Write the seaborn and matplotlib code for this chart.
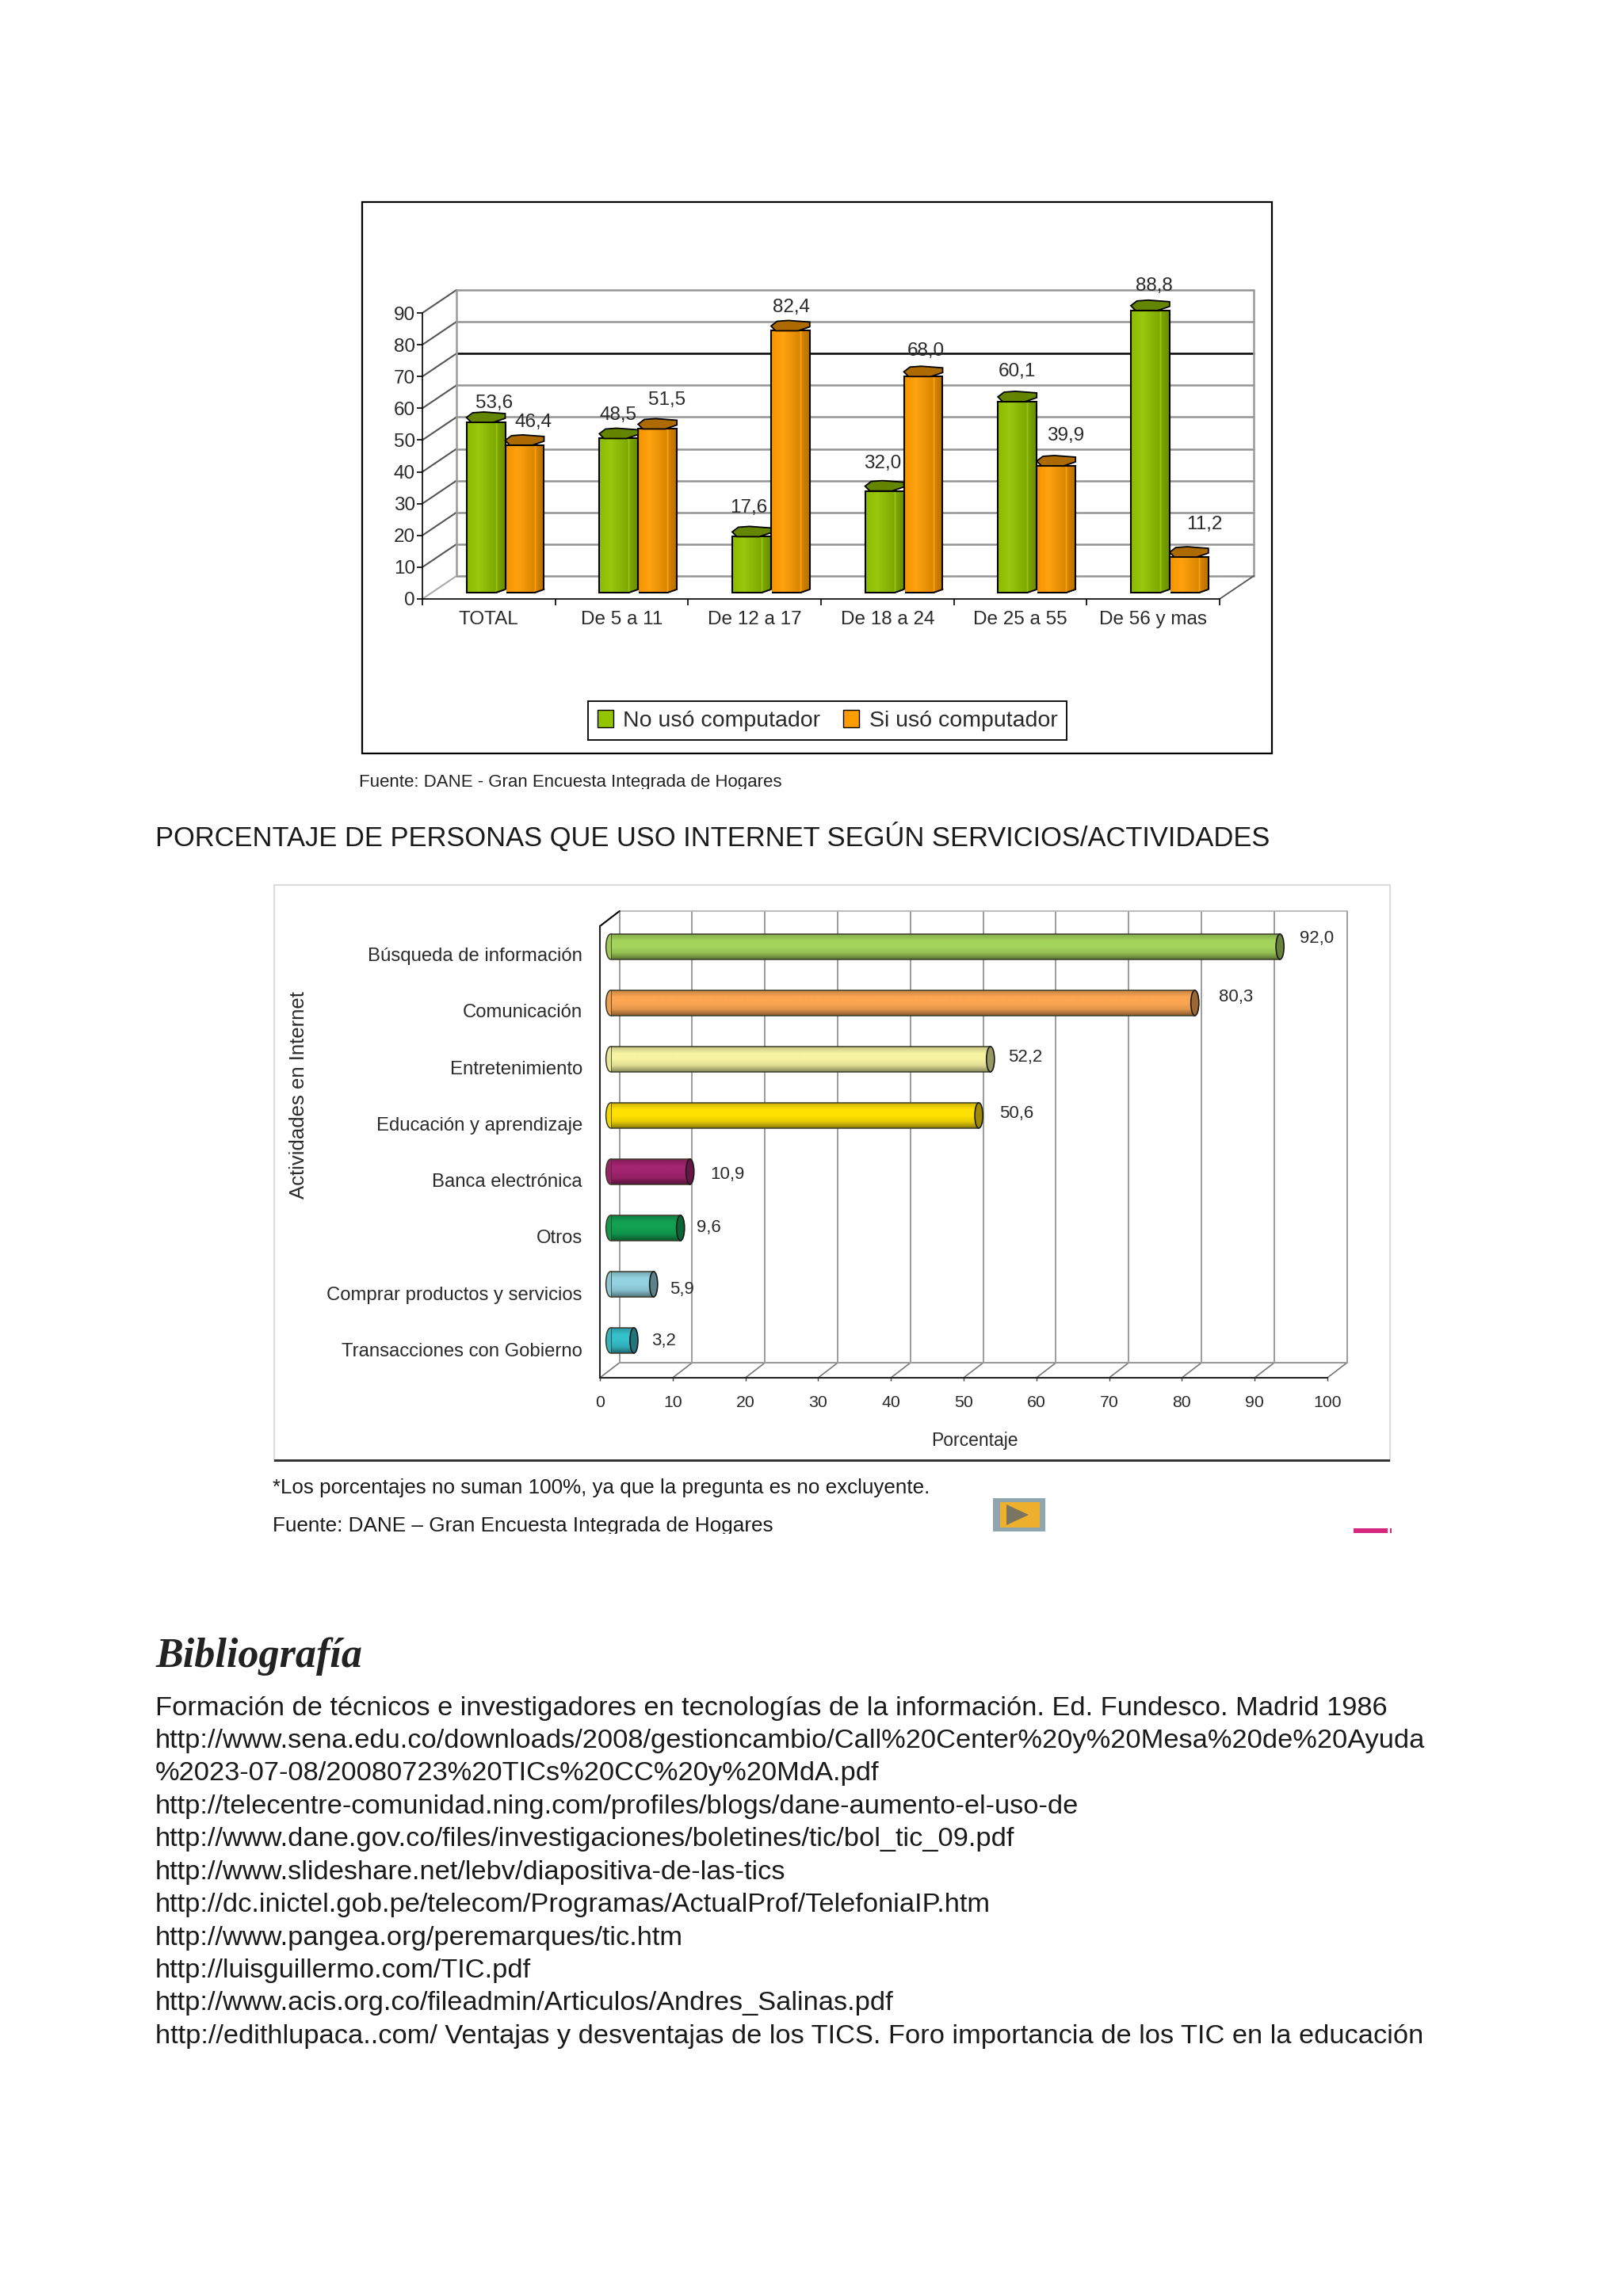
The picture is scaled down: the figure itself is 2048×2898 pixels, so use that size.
import numpy as np
import pandas as pd
import seaborn as sns
from matplotlib import pyplot as plt
from matplotlib.colors import LinearSegmentedColormap, to_rgb
from matplotlib.patches import Ellipse, Patch, Polygon, Rectangle

W, H = 2048, 2898

# first chart
grupos = ['TOTAL', 'De 5 a 11', 'De 12 a 17', 'De 18 a 24', 'De 25 a 55', 'De 56 y mas']
no_uso = [53.6, 48.5, 17.6, 32.0, 60.1, 88.8]
si_uso = [46.4, 51.5, 82.4, 68.0, 39.9, 11.2]
series_uso = ['No usó computador', 'Si usó computador']
colores_uso = ['#93c400', '#ff9c00']
ticks_uso = list(range(0, 100, 10))

# second chart
actividades = ['Búsqueda de información', 'Comunicación', 'Entretenimiento',
               'Educación y aprendizaje', 'Banca electrónica', 'Otros',
               'Comprar productos y servicios', 'Transacciones con Gobierno']
porcentajes = [92.0, 80.3, 52.2, 50.6, 10.9, 9.6, 5.9, 3.2]
colores_act = ['#a4d45c', '#fba652', '#f6f4a2', '#ffe100', '#a3246f', '#12a152', '#93d2e0', '#35bfca']
ticks_pct = list(range(0, 110, 10))

bibliografia = [
    'Formación de técnicos e investigadores en tecnologías de la información. Ed. Fundesco. Madrid 1986',
    'http://www.sena.edu.co/downloads/2008/gestioncambio/Call%20Center%20y%20Mesa%20de%20Ayuda',
    '%2023-07-08/20080723%20TICs%20CC%20y%20MdA.pdf',
    'http://telecentre-comunidad.ning.com/profiles/blogs/dane-aumento-el-uso-de',
    'http://www.dane.gov.co/files/investigaciones/boletines/tic/bol_tic_09.pdf',
    'http://www.slideshare.net/lebv/diapositiva-de-las-tics',
    'http://dc.inictel.gob.pe/telecom/Programas/ActualProf/TelefoniaIP.htm',
    'http://www.pangea.org/peremarques/tic.htm',
    'http://luisguillermo.com/TIC.pdf',
    'http://www.acis.org.co/fileadmin/Articulos/Andres_Salinas.pdf',
    'http://edithlupaca..com/ Ventajas y desventajas de los TICS. Foro importancia de los TIC en la educación',
]

# label nudges in pixels, the original places them by hand
nudge_no = [(11, 24), (-1, 29), (-4, 36), (-2, 35), (0, 38), (5, 31)]
nudge_si = [(11, 29), (12, 36), (1, 29), (3, 32), (12, 38), (19, 41)]
nudge_pct = [(46, 10), (52, 7), (44, 2), (48, 2), (47, -4), (36, 0), (36, -7), (38, -1)]

sns.set_style('white')
plt.rcParams['font.family'] = ['Liberation Sans', 'DejaVu Sans']

fig = plt.figure(figsize=(W / 100, H / 100), dpi=100, facecolor='white')


def px_axes(x0, x1, y_top, y_bottom, z=0):
    ax = fig.add_axes([x0 / W, 1 - y_bottom / H, (x1 - x0) / W, (y_bottom - y_top) / H], zorder=z)
    ax.patch.set_visible(False)
    return ax


def px_rect(x0, y0, x1, y1, **kw):
    r = Rectangle((x0 / W, 1 - y1 / H), (x1 - x0) / W, (y1 - y0) / H, transform=fig.transFigure, **kw)
    fig.add_artist(r)
    return r


def px_text(x, y, s, **kw):
    kw.setdefault('va', 'center')
    kw.setdefault('color', '#1a1a1a')
    return fig.text(x / W, 1 - y / H, s, **kw)


def shade(color, f):
    c = np.array(to_rgb(color))
    return tuple(c * f) if f <= 1 else tuple(c + (1 - c) * (f - 1))


# ---- chart 1: frame, walls, axis
px_rect(457, 255, 1605, 951, fill=False, edgecolor='black', linewidth=1.6, zorder=-1)

ax1 = px_axes(533, 1539, 395, 756)
ax1.set_xlim(-0.5, 5.5)
ax1.set_ylim(0, 90)
deep_x, deep_y = 43 / 167.67, 29 / 4.01
for t in ticks_uso:
    col = 'black' if t == 70 else '#949494'
    ax1.plot([-0.5 + deep_x, 5.5 + deep_x], [t + deep_y, t + deep_y], color=col, lw=1.8, clip_on=False, zorder=1)
    ax1.plot([-0.5, -0.5 + deep_x], [t, t + deep_y], color='#aaaaaa' if t == 0 else '#555555', lw=1.5,
             clip_on=False, zorder=1)
ax1.plot([-0.5 + deep_x] * 2, [deep_y, 90 + deep_y], color='#9a9a9a', lw=1.8, clip_on=False)
ax1.plot([5.5 + deep_x] * 2, [deep_y, 90 + deep_y], color='#9a9a9a', lw=1.8, clip_on=False)
ax1.plot([5.5, 5.5 + deep_x], [0, deep_y], color='#555555', lw=1.3, clip_on=False)
ax1.set_yticks(ticks_uso)
ax1.set_xticks(range(len(grupos)))
ax1.set_xticklabels(grupos)
ax1.set_xticks(np.arange(-0.5, 6, 1), minor=True)
ax1.tick_params(axis='x', which='major', length=0, pad=11, labelsize=17.5, labelcolor='#2a2a2a')
ax1.tick_params(axis='x', which='minor', length=6, width=1.2, color='black', bottom=True)
ax1.tick_params(axis='y', length=5, width=1.2, color='black', left=True, pad=1.5, labelsize=17.5, labelcolor='#2a2a2a')
for s in ['top', 'right']:
    ax1.spines[s].set_visible(False)
for s in ['left', 'bottom']:
    ax1.spines[s].set_color('black')
    ax1.spines[s].set_linewidth(1.2)

# ---- chart 1: bars sit half way into the depth of the box
df_uso = pd.DataFrame({
    'grupo': grupos * 2,
    'valor': no_uso + si_uso,
    'uso': [series_uso[0]] * len(grupos) + [series_uso[1]] * len(grupos),
})
ax1b = px_axes(553.7, 1559.7, 387, 748, z=1)
sns.barplot(data=df_uso, x='grupo', y='valor', hue='uso', hue_order=series_uso, palette=colores_uso,
            width=0.584, gap=0, saturation=1, legend=False, ax=ax1b)
up = 1 / 4.01  # one pixel in value units
for container, color in zip(ax1b.containers, colores_uso):
    cmap = LinearSegmentedColormap.from_list('b', [
        (0.0, shade(color, 0.95)), (0.3, shade(color, 1.06)), (0.74, shade(color, 0.86)),
        (0.77, shade(color, 1.12)), (0.80, shade(color, 0.84)), (1.0, shade(color, 0.72))])
    for bar in container:
        x, w, h = bar.get_x(), bar.get_width(), bar.get_height()
        ax1b.imshow(np.linspace(0, 1, 128).reshape(1, -1), extent=(x, x + w, 0, h), aspect='auto',
                    cmap=cmap, zorder=2)
        bar.set_facecolor('none')
        bar.set_edgecolor('black')
        bar.set_linewidth(1.5)
        bar.set_zorder(3)
        bar.set_clip_on(False)
        # hexagonal lid and the cut corner at the foot of the side face
        lid = [(x, h + 6 * up), (x + 0.16 * w, h + 12 * up), (x + 0.45 * w, h + 13 * up), (x + w, h + 11 * up),
               (x + w, h + 5 * up), (x + 0.7 * w, h), (x + 0.12 * w, h)]
        ax1b.add_patch(Polygon(lid, closed=True, facecolor=shade(color, 0.68), edgecolor='black',
                               linewidth=1.3, zorder=4, clip_on=False))
        foot = [(x + 0.76 * w, -0.3), (x + w + 0.006, -0.3), (x + w + 0.006, 4 * up)]
        ax1b.add_patch(Polygon(foot, closed=True, facecolor='white', edgecolor='none', zorder=4, clip_on=False))
        ax1b.plot([x + 0.76 * w, x + w], [0, 4 * up], color='black', lw=1.4, zorder=5, clip_on=False)
ax1b.set_xlim(-0.5, 5.5)
ax1b.set_ylim(0, 90)
ax1b.axis('off')

for i, (a, b) in enumerate(zip(no_uso, si_uso)):
    bars_a, bars_b = ax1b.containers[0][i], ax1b.containers[1][i]
    for bar, v, n in ((bars_a, a, nudge_no[i]), (bars_b, b, nudge_si[i])):
        ax1b.annotate(f'{v:.1f}'.replace('.', ','), (bar.get_x() + bar.get_width() / 2, v),
                      xytext=(n[0] * 0.72, n[1] * 0.72), textcoords='offset points',
                      ha='center', va='center', fontsize=17.5, color='#2a2a2a', annotation_clip=False, zorder=6)

ax1b.legend(handles=[Patch(facecolor=c, edgecolor='black') for c in colores_uso], labels=series_uso, ncol=2,
            loc='center', bbox_to_anchor=(1044 / W, 1 - 909.5 / H), bbox_transform=fig.transFigure,
            fontsize=20.5, frameon=True, fancybox=False, framealpha=1, edgecolor='black',
            handlelength=0.7, handleheight=0.8, handletextpad=0.45, columnspacing=1.0, borderpad=0.4,
            labelcolor='#2a2a2a').get_frame().set_linewidth(1.3)

px_text(453, 988, 'Fuente: DANE - Gran Encuesta Integrada de Hogares', fontsize=16, color='#222222')
px_rect(440, 996, 1100, 1012, facecolor='white', edgecolor='none', zorder=10)

px_text(196, 1056, 'PORCENTAJE DE PERSONAS QUE USO INTERNET SEGÚN SERVICIOS/ACTIVIDADES', fontsize=24.85)

# ---- chart 2: panel and walls
px_rect(346, 1117, 1754, 1844, facecolor='white', edgecolor='#dcdcdc', linewidth=1.5, zorder=-1)
px_rect(346, 1842, 1754, 1845, facecolor='#333333', edgecolor='none', zorder=-1)

ax2 = px_axes(757, 1675, 1169, 1739)
ax2.set_xlim(0, 100)
ax2.set_ylim(7.5, -0.5)
deep_px, deep_cat = 2.69, 19 / 71.25
for t in ticks_pct:
    ax2.plot([t + deep_px] * 2, [7.5 - deep_cat, -0.5 - deep_cat], color='#949494', lw=1.3, clip_on=False)
    ax2.plot([t, t + deep_px], [7.5, 7.5 - deep_cat], color='#777777', lw=1.2, clip_on=False)
ax2.plot([deep_px, 100 + deep_px], [7.5 - deep_cat] * 2, color='#9a9a9a', lw=1.5, clip_on=False)
ax2.plot([deep_px, 100 + deep_px], [-0.5 - deep_cat] * 2, color='#b5b5b5', lw=1.3, clip_on=False)
ax2.plot([0, deep_px], [-0.5, -0.5 - deep_cat], color='black', lw=1.5, clip_on=False)
ax2.set_xticks(ticks_pct)
ax2.set_yticks(range(len(actividades)))
ax2.set_yticklabels(actividades)
ax2.tick_params(axis='x', length=3, width=1, color='#444444', bottom=True, pad=13, labelsize=15.3, labelcolor='#2a2a2a')
ax2.tick_params(axis='y', length=0, pad=16, labelsize=17.2, labelcolor='#2a2a2a')
ax2.set_xlabel('Porcentaje', fontsize=16.5, color='#2a2a2a', labelpad=19, x=0.515)
for s in ['top', 'right']:
    ax2.spines[s].set_visible(False)
for s in ['left', 'bottom']:
    ax2.spines[s].set_color('#222222')
    ax2.spines[s].set_linewidth(1.5)

px_text(377, 1382, 'Actividades en Internet', rotation=90, ha='center', fontsize=18.5, color='#2a2a2a')

# ---- chart 2: cylinders
ax2b = px_axes(770.6, 1688.6, 1159.4, 1727.4, z=1)
sns.barplot(x=porcentajes, y=actividades, hue=actividades, palette=colores_act, orient='h',
            width=0.45, saturation=1, legend=False, ax=ax2b)
for container, color in zip(ax2b.containers, colores_act):
    cmap = LinearSegmentedColormap.from_list('c', [shade(color, 0.8), shade(color, 1.0), shade(color, 1.0),
                                                   shade(color, 0.9), shade(color, 0.55)])
    for bar in container:
        y, hh, v = bar.get_y(), bar.get_height(), bar.get_width()
        ax2b.imshow(np.linspace(0, 1, 64).reshape(-1, 1), extent=(0, v, y + hh, y), aspect='auto',
                    cmap=cmap, zorder=2)
        bar.set_facecolor('none')
        bar.set_edgecolor('#3a3a2a')
        bar.set_linewidth(1.1)
        bar.set_zorder(3)
        ymid = y + hh / 2
        ax2b.add_patch(Ellipse((0, ymid), 1.3, hh, facecolor=shade(color, 0.95), edgecolor='#3a3a2a',
                               linewidth=1.1, zorder=1, clip_on=False))
        ax2b.add_patch(Ellipse((v, ymid), 1.1, hh, facecolor=shade(color, 0.62), edgecolor='#1a1a1a',
                               linewidth=1.2, zorder=4, clip_on=False))
ax2b.set_xlim(0, 100)
ax2b.set_ylim(7.5, -0.5)
ax2b.axis('off')

for i, v in enumerate(porcentajes):
    n = nudge_pct[i]
    ax2b.annotate(f'{v:.1f}'.replace('.', ','), (v, i), xytext=(n[0] * 0.72, n[1] * 0.72),
                  textcoords='offset points', ha='center', va='center', fontsize=16,
                  color='#2a2a2a', annotation_clip=False)

px_text(344, 1878, '*Los porcentajes no suman 100%, ya que la pregunta es no excluyente.', fontsize=18.7)
px_text(344, 1926, 'Fuente: DANE – Gran Encuesta Integrada de Hogares', fontsize=18.8)
px_rect(340, 1936, 1200, 1950, facecolor='white', edgecolor='none', zorder=10)

# little button and pink dash copied over from the page
px_rect(1253, 1891, 1319, 1933, facecolor='#8fa5b0', edgecolor='none')
px_rect(1262, 1896, 1312, 1928, facecolor='#eeb02c', edgecolor='none')
fig.add_artist(Polygon([(1270 / W, 1 - 1899 / H), (1270 / W, 1 - 1925 / H), (1298 / W, 1 - 1912 / H)],
                       closed=True, transform=fig.transFigure, facecolor='#7a7560', edgecolor='none'))
px_rect(1708, 1929, 1751, 1935, facecolor='#d8277f', edgecolor='none')
px_rect(1754, 1929, 1756, 1935, facecolor='#d8277f', edgecolor='none')

# ---- text block
px_text(196, 2091, 'Bibliografía', family=['Liberation Serif', 'DejaVu Serif'], style='italic',
        weight='bold', fontsize=37.5, color='#222222')
for i, linea in enumerate(bibliografia):
    px_text(196, 2156 + 41.44 * i, linea, fontsize=24.75)

fig.savefig('out.png', dpi=100)
plt.close(fig)
